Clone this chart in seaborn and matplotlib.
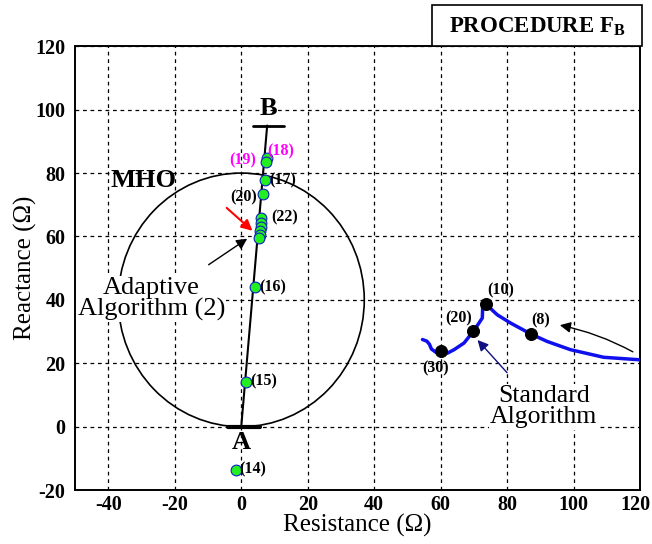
import numpy as np
import pandas as pd
import matplotlib
matplotlib.use("Agg")
import matplotlib.pyplot as plt
import matplotlib.transforms as mtransforms
from matplotlib.patches import Ellipse, FancyArrowPatch, Rectangle
import seaborn as sns

# adaptive algorithm trajectory (green points)
adaptive_r = [-1.5, 1.3, 4.0, 7.0, 7.6, 7.5, 6.5, 6.0, 6.0, 5.8, 5.6, 5.5, 5.3]
adaptive_x = [-13.6, 14.2, 44.1, 77.8, 84.6, 83.6, 73.5, 65.9, 64.3, 63.0, 61.7, 60.4, 59.4]

# standard algorithm trajectory (blue curve)
standard_r = [54.5, 55.8, 56.6, 57.2, 58.5, 60.2, 62.0, 64.0, 67.0, 69.8, 71.5,
              72.5, 72.6, 73.5, 77.0, 81.0, 87.0, 92.0, 99.0, 109.0, 120.0]
standard_x = [27.5, 27.0, 26.0, 24.5, 23.5, 24.0, 23.2, 24.3, 26.4, 30.1, 32.7,
              34.3, 37.5, 38.7, 35.3, 32.7, 29.3, 26.9, 24.3, 21.9, 21.1]

# marked samples on the standard curve
marked_r = [60.2, 69.8, 73.5, 87.0]
marked_x = [24.0, 30.1, 38.7, 29.3]
marked_lbl = ["(30)", "(20)", "(10)", "(8)"]
marked_lbl_pos = [(58.5, 18.5), (65.5, 34.3), (78.0, 43.0), (90.0, 33.5)]

# MHO characteristic
mho_center = (0.0, 40.0)
mho_width = 74.0
mho_height = 80.0

# protected line A-B
line_ab_r = [0.0, 7.8]
line_ab_x = [0.0, 95.0]

x_ticks = [-40, -20, 0, 20, 40, 60, 80, 100, 120]
y_ticks = [-20, 0, 20, 40, 60, 80, 100, 120]

sns.set_theme(style="white")
plt.rcParams["font.family"] = ["Liberation Serif", "DejaVu Serif"]
plt.rcParams["axes.unicode_minus"] = False
plt.rcParams["mathtext.fontset"] = "custom"
plt.rcParams["mathtext.rm"] = "Liberation Serif"
plt.rcParams["mathtext.bf"] = "Liberation Serif:bold"
for key in ["text.color", "axes.labelcolor", "xtick.color", "ytick.color"]:
    plt.rcParams[key] = "black"

fig = plt.figure(figsize=(6.52, 5.44), dpi=100)
ax = fig.add_axes([0.115, 0.099, 0.867, 0.816])

ax.set_xlim(-50, 120)
ax.set_ylim(-20, 120)
ax.set_xticks(x_ticks)
ax.set_yticks(y_ticks)
ax.grid(True, color="black", linestyle=(0, (3, 3)), linewidth=0.9)
ax.tick_params(length=0, labelsize=14.5)
ax.tick_params(axis="x", pad=3.5)
ax.tick_params(axis="y", pad=7)
for lab in ax.get_xticklabels() + ax.get_yticklabels():
    lab.set_fontweight("bold")
# keep the last x label inside the figure
last = ax.get_xticklabels()[-1]
last.set_transform(last.get_transform() +
                   mtransforms.ScaledTranslation(-5 / 100, 0, fig.dpi_scale_trans))
for sp in ax.spines.values():
    sp.set_color("black")
    sp.set_linewidth(1.4)

# MHO circle
ax.add_patch(Ellipse(mho_center, mho_width, mho_height, fill=False,
                     edgecolor="black", linewidth=1.2, zorder=3))
ax.text(-29.5, 77.8, "MHO", fontsize=19, fontweight="bold", ha="center",
        va="center", zorder=5)

# line A-B with end bars
ax.plot(line_ab_r, line_ab_x, color="black", linewidth=1.5, zorder=4)
ax.plot([-4.0, 5.5], [0, 0], color="black", linewidth=3, zorder=4)
ax.plot([3.5, 12.8], [95, 95], color="black", linewidth=2, zorder=4)
ax.text(8.1, 100.3, "B", fontsize=19, fontweight="bold", ha="center", va="center")
ax.text(0.0, -4.9, "A", fontsize=19, fontweight="bold", ha="center", va="center")

# standard algorithm
std_df = pd.DataFrame({"R": standard_r, "X": standard_x})
sns.lineplot(data=std_df, x="R", y="X", sort=False, estimator=None,
             color="#1010ee", linewidth=2.5, ax=ax, zorder=5)
mk_df = pd.DataFrame({"R": marked_r, "X": marked_x})
sns.scatterplot(data=mk_df, x="R", y="X", color="black", s=75,
                edgecolor="black", ax=ax, zorder=6)
for lbl, (px, py) in zip(marked_lbl, marked_lbl_pos):
    ax.text(px, py, lbl, fontsize=11.5, fontweight="bold", ha="center", va="center")

# adaptive algorithm
ad_df = pd.DataFrame({"R": adaptive_r, "X": adaptive_x})
sns.scatterplot(data=ad_df, x="R", y="X", color="#22ee22", s=60,
                edgecolor="#1020c0", linewidth=0.8, ax=ax, zorder=7)
ax.set_xlabel("Resistance (Ω)", fontsize=18, labelpad=-0.5)
ax.set_ylabel("Reactance (Ω)", fontsize=18, labelpad=-1.5)

green_lbls = [("(14)", 3.5, -13.6, "black"), ("(15)", 6.8, 14.2, "black"),
              ("(16)", 9.6, 44.1, "black"), ("(17)", 12.6, 77.8, "black"),
              ("(18)", 12.0, 86.8, "magenta"), ("(19)", 0.5, 83.9, "magenta"),
              ("(20)", 0.8, 72.3, "black"), ("(22)", 13.0, 66.0, "black")]
for lbl, px, py, col in green_lbls:
    ax.text(px, py, lbl, fontsize=11.5, fontweight="bold", color=col,
            ha="center", va="center", zorder=8)

# arrows
ax.add_patch(FancyArrowPatch((-5, 69.6), (4, 61.2), arrowstyle="-|>",
                             mutation_scale=16, color="red", linewidth=1.5, zorder=8))
ax.add_patch(FancyArrowPatch((-10.5, 50.6), (2.5, 59.8), arrowstyle="-|>",
                             mutation_scale=16, color="black", linewidth=1.0, zorder=8))
ax.add_patch(FancyArrowPatch((80.5, 16.4), (70.5, 28.0), arrowstyle="-|>",
                             mutation_scale=16, color="#101080", linewidth=1.0, zorder=8))
ax.add_patch(FancyArrowPatch((118.5, 23.2), (95.0, 32.2), arrowstyle="-|>",
                             connectionstyle="arc3,rad=0.08",
                             mutation_scale=16, color="black", linewidth=1.0, zorder=8))

ax.text(-27, 40.3, "Adaptive\nAlgorithm (2)", fontsize=19, ha="center",
        va="center", linespacing=0.95, zorder=6,
        bbox=dict(facecolor="white", edgecolor="none", pad=1))
ax.text(91, 6.3, "Standard\nAlgorithm", fontsize=18.5, ha="center",
        va="center", linespacing=0.95, zorder=6,
        bbox=dict(facecolor="white", edgecolor="none", pad=1))

# procedure label box above the axes
fig.add_artist(Rectangle((0.6626, 0.9154), 0.3221, 0.0754, transform=fig.transFigure,
                         facecolor="white", edgecolor="black", linewidth=1.2))
fig.text(0.8235, 0.952, r"PROCEDURE F$_\mathbf{B}$", fontsize=16.5, fontweight="bold",
         ha="center", va="center")

fig.savefig("out.png", dpi=100)
